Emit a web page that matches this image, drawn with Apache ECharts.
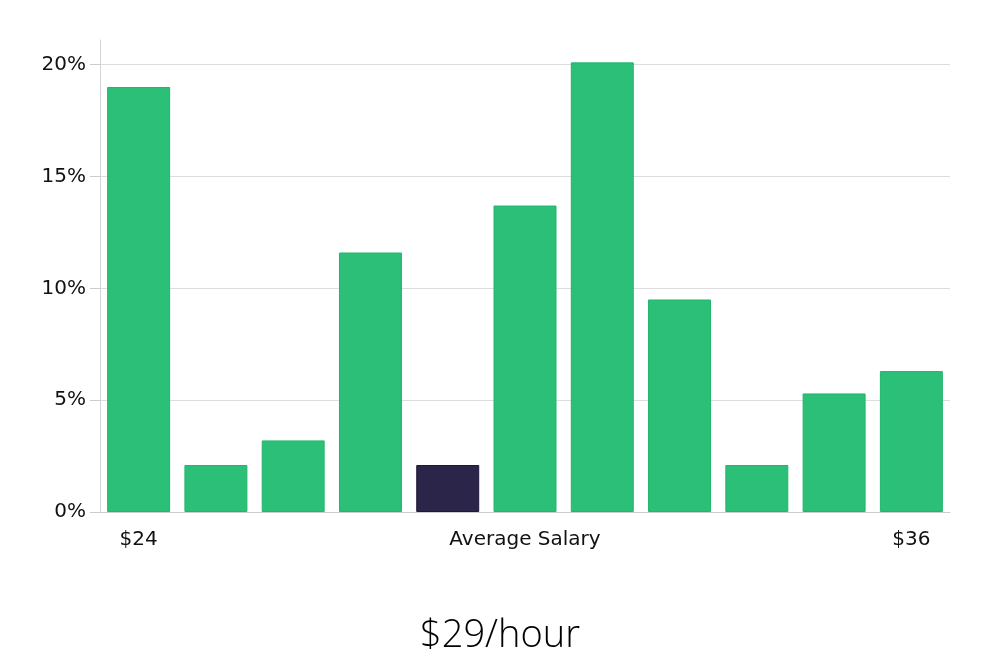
<!DOCTYPE html>
<html>
<head>
<meta charset="utf-8">
<script src="https://cdn.jsdelivr.net/npm/echarts@6/dist/echarts.min.js"></script>
<style>html,body{margin:0;padding:0;background:#fff}#c{width:1000px;height:660px}</style>
</head>
<body>
<div id="c"></div>
<script>
const categories = ['$24', '', '', '', '', '', '', '', '', '', '$36'];
const shares = [19.0, 2.1, 3.2, 11.6, 2.1, 13.7, 20.1, 9.5, 2.1, 5.3, 6.3];
const highlightIndex = 4;
const yTicks = [0, 5, 10, 15, 20];
const axisName = 'Average Salary';
const titleText = '$29/hour';

const chart = echarts.init(document.getElementById('c'));
const font = 'DejaVu Sans';
chart.setOption({
  animation: false,
  title: {
    text: titleText,
    left: 'center',
    top: 612,
    textStyle: { fontFamily: 'Open Sans', fontWeight: 300, fontSize: 38, color: '#000' }
  },
  grid: { left: 100, right: 50, top: 40, bottom: 148 },
  xAxis: {
    type: 'category',
    data: categories,
    name: axisName,
    nameLocation: 'middle',
    nameGap: 18,
    nameMoveOverlap: false,
    nameTextStyle: { fontFamily: font, fontSize: 20, color: '#111', verticalAlign: 'top' },
    axisLine: { lineStyle: { color: '#cccccc', width: 1 } },
    axisTick: { show: false },
    axisLabel: {
      interval: 0,
      margin: 18,
      fontFamily: font, fontSize: 20, color: '#111'
    }
  },
  yAxis: {
    type: 'value',
    min: 0,
    max: 21.1,
    interval: 5,
    axisLine: { show: true, lineStyle: { color: '#d4d4d4', width: 1 } },
    axisTick: { show: true, length: 10, customValues: yTicks, lineStyle: { color: '#cccccc', width: 1 } },
    axisLabel: {
      customValues: yTicks,
      margin: 14,
      fontFamily: font, fontSize: 20, color: '#111',
      formatter: v => v + '%'
    },
    splitLine: { show: true, lineStyle: { color: '#dddddd', width: 1 } }
  },
  series: [{
    type: 'bar',
    barCategoryGap: '18.5%',
    data: shares.map((v, i) => ({
      value: v,
      itemStyle: i === highlightIndex
        ? { color: '#2a2549', borderColor: '#1d1838', borderWidth: 1 }
        : { color: '#2cbf78', borderColor: '#23b56d', borderWidth: 1 }
    }))
  }]
});
</script>
</body>
</html>
